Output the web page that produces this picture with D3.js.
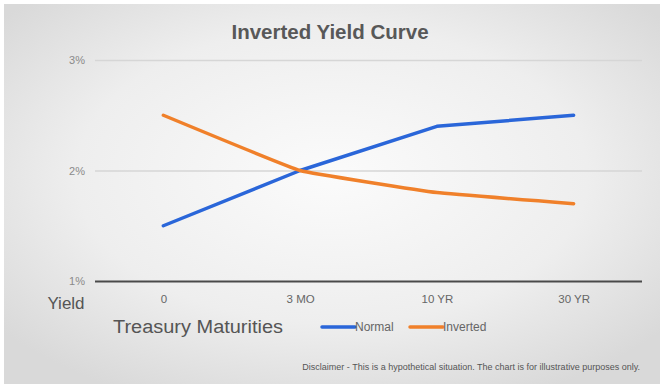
<!DOCTYPE html>
<html><head><meta charset="utf-8">
<script src="https://cdn.jsdelivr.net/npm/d3@7"></script>
<style>body{margin:0;background:#fff}svg{display:block}</style>
</head><body>
<script>
const categories = ["0", "3 MO", "10 YR", "30 YR"];
const normalValues = [1.5, 2.0, 2.4, 2.5];
const invertedValues = [2.5, 2.0, 1.8, 1.7];
const yTicks = [1, 2, 3];
const seriesNames = ["Normal", "Inverted"];
const colors = ["#2a66d9", "#f0802a"];

const W = 665, H = 391;
const svg = d3.select("body").append("svg").attr("width", W).attr("height", H);
const defs = svg.append("defs");
const grad = defs.append("radialGradient").attr("id", "bg").attr("cx", "50%").attr("cy", "45%").attr("r", "65%");
grad.append("stop").attr("offset", "0%").attr("stop-color", "#fbfbfb");
grad.append("stop").attr("offset", "60%").attr("stop-color", "#eeeeee");
grad.append("stop").attr("offset", "100%").attr("stop-color", "#d9d9d9");
svg.append("rect").attr("x", 4).attr("y", 4).attr("width", 656).attr("height", 380).attr("fill", "url(#bg)");

const x = d3.scalePoint().domain(categories).range([95, 642]).padding(0.5);
const y = d3.scaleLinear().domain([1, 3]).range([281, 60]);

const font = "'Liberation Sans',Arial,sans-serif";

svg.append("text").attr("x", 330).attr("y", 39).attr("text-anchor", "middle")
  .attr("font-family", font).attr("font-weight", "bold")
  .attr("font-size", 20.5).attr("fill", "#585858").text("Inverted Yield Curve");

// gridlines
const yAxis = svg.append("g").attr("transform", "translate(95,0)")
  .call(d3.axisLeft(y).tickValues(yTicks).tickFormat(d => d + "%").tickSize(-547).tickPadding(10));
yAxis.select(".domain").remove();
yAxis.selectAll(".tick line").attr("stroke", d => d === 1 ? "#4a4a4a" : "#d6d6d6")
  .attr("stroke-width", d => d === 1 ? 2 : 1.5);
yAxis.selectAll(".tick text").attr("font-family", font).attr("font-size", 11).attr("fill", "#8a8a8a");

const xAxis = svg.append("g").attr("transform", "translate(0,281)")
  .call(d3.axisBottom(x).tickSize(0).tickPadding(14));
xAxis.select(".domain").remove();
xAxis.selectAll(".tick text").attr("font-family", font).attr("font-size", 11.5).attr("fill", "#666");

svg.append("text").attr("x", 66).attr("y", 309).attr("text-anchor", "middle")
  .attr("font-family", font).attr("font-size", 17).attr("fill", "#555").text("Yield");
svg.append("text").attr("x", 113).attr("y", 333)
  .attr("font-family", font).attr("font-size", 18).attr("fill", "#555")
  .attr("textLength", 170).attr("lengthAdjust", "spacingAndGlyphs").text("Treasury Maturities");

const series = [normalValues, invertedValues];
const curves = [d3.curveLinear, d3.curveCardinal.tension(0.75)];
series.forEach((vals, i) => {
  const line = d3.line().x((d, j) => x(categories[j])).y(d => y(d)).curve(curves[i]);
  svg.append("path").datum(vals).attr("d", line).attr("fill", "none")
    .attr("stroke", colors[i]).attr("stroke-width", 3.5).attr("stroke-linecap", "round").attr("stroke-linejoin", "round");
});

// legend
const legX = [322, 410];
seriesNames.forEach((n, i) => {
  svg.append("line").attr("x1", legX[i]).attr("x2", legX[i] + 33).attr("y1", 327).attr("y2", 327)
    .attr("stroke", colors[i]).attr("stroke-width", 3.5).attr("stroke-linecap", "round");
  svg.append("text").attr("x", legX[i] + 33).attr("y", 331).attr("font-family", font)
    .attr("font-size", 12).attr("fill", "#666").text(n);
});

svg.append("text").attr("x", 640).attr("y", 370).attr("text-anchor", "end")
  .attr("font-family", font).attr("font-size", 9).attr("fill", "#555")
  .text("Disclaimer - This is a hypothetical situation.  The chart is for illustrative purposes only.");
</script>
</body></html>
